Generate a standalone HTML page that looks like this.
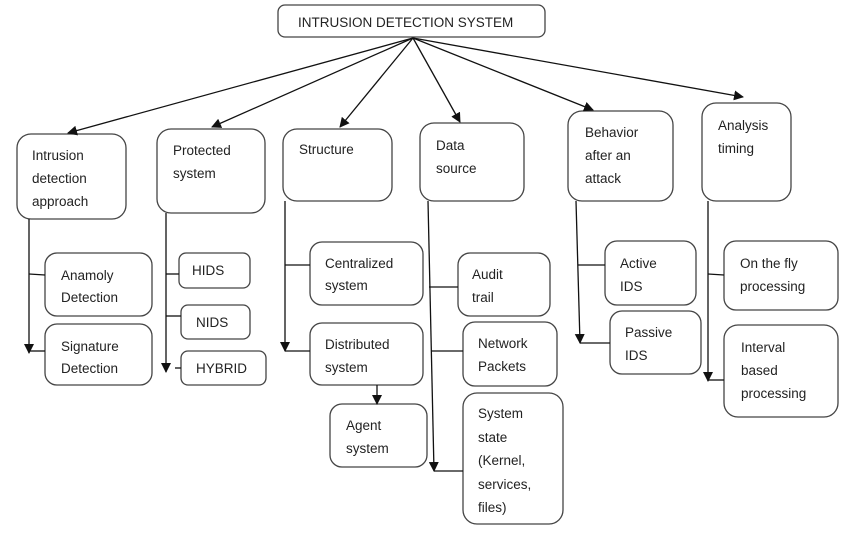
<!DOCTYPE html>
<html><head><meta charset="utf-8"><style>
body{margin:0;background:#fff;}
svg text{font-family:"Liberation Sans",sans-serif;font-size:13.5px;fill:#222;}
</style></head><body>
<svg width="856" height="530" viewBox="0 0 856 530" xmlns="http://www.w3.org/2000/svg">
<defs><marker id="a" markerWidth="10" markerHeight="10" refX="9" refY="5" orient="auto" markerUnits="userSpaceOnUse"><path d="M0,0 L10,5 L0,10 z" fill="#111"/></marker></defs>
<g fill="#fff" stroke="#444" stroke-width="1.3">
<rect x="278" y="5" width="267" height="32" rx="7"/>
<rect x="17" y="134" width="109" height="85" rx="14"/>
<rect x="157" y="129" width="108" height="84" rx="14"/>
<rect x="283" y="129" width="109" height="72" rx="14"/>
<rect x="420" y="123" width="104" height="78" rx="14"/>
<rect x="568" y="111" width="105" height="90" rx="14"/>
<rect x="702" y="103" width="89" height="98" rx="14"/>
<rect x="45" y="253" width="107" height="63" rx="12"/>
<rect x="45" y="324" width="107" height="61" rx="12"/>
<rect x="179" y="253" width="71" height="35" rx="7"/>
<rect x="181" y="305" width="69" height="34" rx="7"/>
<rect x="181" y="351" width="85" height="34" rx="7"/>
<rect x="310" y="242" width="113" height="63" rx="12"/>
<rect x="310" y="323" width="113" height="62" rx="12"/>
<rect x="330" y="404" width="97" height="63" rx="12"/>
<rect x="458" y="253" width="92" height="63" rx="12"/>
<rect x="463" y="322" width="94" height="64" rx="12"/>
<rect x="463" y="393" width="100" height="131" rx="14"/>
<rect x="605" y="241" width="91" height="64" rx="12"/>
<rect x="610" y="311" width="91" height="63" rx="12"/>
<rect x="724" y="241" width="114" height="69" rx="12"/>
<rect x="724" y="325" width="114" height="92" rx="14"/>
</g>
<g stroke="#111" stroke-width="1.3" fill="none">
<line x1="413" y1="38" x2="68" y2="133" marker-end="url(#a)"/>
<line x1="413" y1="38" x2="212" y2="127" marker-end="url(#a)"/>
<line x1="413" y1="38" x2="340" y2="127" marker-end="url(#a)"/>
<line x1="413" y1="38" x2="460" y2="122" marker-end="url(#a)"/>
<line x1="413" y1="38" x2="593" y2="110" marker-end="url(#a)"/>
<line x1="413" y1="38" x2="743" y2="97" marker-end="url(#a)"/>
<line x1="29" y1="219" x2="29" y2="353" marker-end="url(#a)"/>
<line x1="29" y1="274" x2="45" y2="275"/><line x1="29" y1="351" x2="45" y2="351"/>
<line x1="166" y1="213" x2="166" y2="372" marker-end="url(#a)"/>
<line x1="166" y1="274" x2="179" y2="274"/><line x1="166" y1="316" x2="181" y2="316"/><line x1="175" y1="368" x2="181" y2="368"/>
<line x1="285" y1="201" x2="285" y2="351" marker-end="url(#a)"/>
<line x1="285" y1="265" x2="310" y2="265"/><line x1="285" y1="351" x2="310" y2="351"/>
<line x1="377" y1="385" x2="377" y2="404" marker-end="url(#a)"/>
<line x1="428" y1="201" x2="434" y2="471" marker-end="url(#a)"/>
<line x1="429" y1="287" x2="458" y2="287"/><line x1="431" y1="351" x2="463" y2="351"/><line x1="434" y1="471" x2="463" y2="471"/>
<line x1="576" y1="201" x2="580" y2="343" marker-end="url(#a)"/>
<line x1="578" y1="265" x2="605" y2="265"/><line x1="580" y1="343" x2="610" y2="343"/>
<line x1="708" y1="201" x2="708" y2="381" marker-end="url(#a)"/>
<line x1="708" y1="274" x2="724" y2="275"/><line x1="708" y1="380" x2="724" y2="380"/>
</g>
<g>
<text x="298" y="27">INTRUSION DETECTION SYSTEM</text>
<text x="32" y="160">Intrusion</text><text x="32" y="183">detection</text><text x="32" y="206">approach</text>
<text x="173" y="155">Protected</text><text x="173" y="178">system</text>
<text x="299" y="154">Structure</text>
<text x="436" y="150">Data</text><text x="436" y="173">source</text>
<text x="585" y="137">Behavior</text><text x="585" y="160">after an</text><text x="585" y="183">attack</text>
<text x="718" y="130">Analysis</text><text x="718" y="153">timing</text>
<text x="61" y="280">Anamoly</text><text x="61" y="302">Detection</text>
<text x="61" y="351">Signature</text><text x="61" y="373">Detection</text>
<text x="192" y="275">HIDS</text><text x="196" y="327">NIDS</text><text x="196" y="373">HYBRID</text>
<text x="325" y="268">Centralized</text><text x="325" y="290">system</text>
<text x="325" y="349">Distributed</text><text x="325" y="372">system</text>
<text x="346" y="430">Agent</text><text x="346" y="453">system</text>
<text x="472" y="279">Audit</text><text x="472" y="302">trail</text>
<text x="478" y="348">Network</text><text x="478" y="371">Packets</text>
<text x="478" y="418">System</text><text x="478" y="442">state</text><text x="478" y="465">(Kernel,</text><text x="478" y="489">services,</text><text x="478" y="512">files)</text>
<text x="620" y="268">Active</text><text x="620" y="291">IDS</text>
<text x="625" y="337">Passive</text><text x="625" y="360">IDS</text>
<text x="740" y="268">On the fly</text><text x="740" y="291">processing</text>
<text x="741" y="352">Interval</text><text x="741" y="375">based</text><text x="741" y="398">processing</text>
</g>
</svg>
</body></html>
